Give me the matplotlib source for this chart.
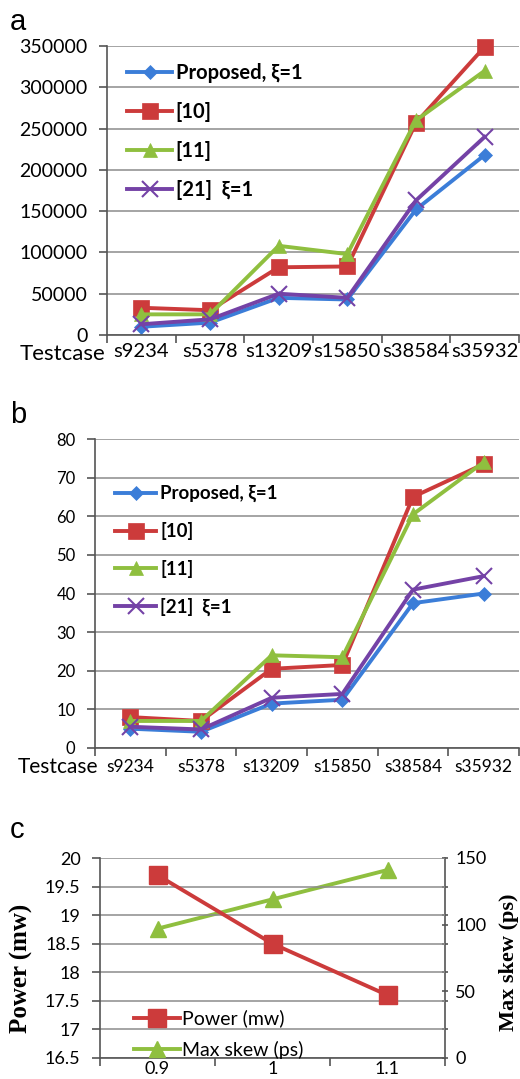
import matplotlib
matplotlib.use("Agg")
import matplotlib.pyplot as plt
from matplotlib.ticker import FixedLocator, NullFormatter
import numpy as np

plt.rcParams["font.family"] = ["Lato", "DejaVu Sans"]

# ---- data ----
testcases = ["s9234", "s5378", "s13209", "s15850", "s38584", "s35932"]
series_names = ["Proposed, ξ=1", "[10]", "[11]", "[21]  ξ=1"]

# panel a
a_proposed = [10000, 15000, 45000, 43000, 152000, 218000]
a_ref10 = [33000, 30000, 82000, 83000, 257000, 349000]
a_ref11 = [25000, 25000, 108000, 98000, 260000, 320000]
a_ref21 = [13000, 19000, 50000, 45000, 163000, 240000]

# panel b
b_proposed = [5, 4.2, 11.5, 12.5, 37.5, 40]
b_ref10 = [8, 7, 20.5, 21.5, 65, 73.5]
b_ref11 = [7, 7, 24, 23.5, 60.5, 74]
b_ref21 = [5.5, 4.8, 13, 14, 41, 44.5]

# panel c
c_xlabels = ["0.9", "1", "1.1"]
c_power = [19.7, 18.5, 17.6]
c_skew = [97, 119, 141]

colors = ["#3b7dd8", "#cc3b3b", "#8fbf3f", "#7442a6"]
markers = ["D", "s", "^", "x"]
msizes = [7, 11, 10, 11]

fig = plt.figure(figsize=(5.2, 10.79), dpi=100)
W, H = 520.0, 1079.0


def px_axes(l, t, r, b):
    return fig.add_axes([l / W, 1 - b / H, (r - l) / W, (b - t) / H])


def style_cat_axes(ax, labels, fs, yfs, pad):
    n = len(labels)
    ax.set_xlim(-0.5, n - 0.5)
    for s in ["top", "right"]:
        ax.spines[s].set_visible(False)
    for s in ["left", "bottom"]:
        ax.spines[s].set_color("#555555")
        ax.spines[s].set_linewidth(1.2)
    ax.yaxis.grid(True, color="#8c8c8c", linewidth=1.1)
    ax.set_axisbelow(True)
    ax.set_xticks(range(n))
    ax.set_xticklabels(labels, fontsize=fs)
    ax.xaxis.set_minor_locator(FixedLocator(np.arange(-0.5, n, 1.0)))
    ax.tick_params(axis="x", which="major", length=0, pad=pad)
    ax.tick_params(axis="x", which="minor", length=6, width=1.2,
                   color="#555555", direction="out")
    ax.tick_params(axis="y", length=6, width=1.2, color="#555555",
                   labelsize=yfs, pad=8)


def draw_series(ax, data, legend_fs, spacing, anchor):
    for vals, name, c, m, ms in zip(data, series_names, colors, markers, msizes):
        ax.plot(range(len(vals)), vals, color=c, marker=m, markersize=ms,
                linewidth=2.8, markeredgewidth=1.5 if m == "x" else 0.5,
                markeredgecolor=c, label=name, clip_on=False)
    leg = ax.legend(loc="upper left", bbox_to_anchor=anchor, frameon=False,
                    fontsize=legend_fs, handlelength=2.2, handletextpad=0.2,
                    labelspacing=spacing, borderaxespad=0)
    for t in leg.get_texts():
        t.set_fontweight("bold")
    return leg


# ---- panel a ----
ax_a = px_axes(107, 46, 519, 335)
draw_series(ax_a, [a_proposed, a_ref10, a_ref11, a_ref21], 14.5, 0.95,
            (0.03, 0.97))
ax_a.set_ylim(0, 350000)
ax_a.set_yticks(np.arange(0, 350001, 50000))
style_cat_axes(ax_a, testcases, 14.5, 14, 6)
ax_a.text(-0.212, -0.032, "Testcase", transform=ax_a.transAxes, fontsize=16,
          ha="left", va="top")

# ---- panel b ----
ax_b = px_axes(95, 439, 519, 748)
draw_series(ax_b, [b_proposed, b_ref10, b_ref11, b_ref21], 13.5, 1.05,
            (0.03, 0.875))
ax_b.set_ylim(0, 80)
ax_b.set_yticks(np.arange(0, 81, 10))
style_cat_axes(ax_b, testcases, 12.5, 12, 8)
ax_b.text(-0.183, -0.03, "Testcase", transform=ax_b.transAxes, fontsize=15,
          ha="left", va="top")

# ---- panel c ----
ax_c = px_axes(100, 858, 445, 1058)
ax_c2 = ax_c.twinx()
ln2 = ax_c2.plot(range(3), c_skew, color=colors[2], marker="^", markersize=12,
                 linewidth=2.8, markeredgecolor=colors[2], label="Max skew (ps)")
ln1 = ax_c.plot(range(3), c_power, color=colors[1], marker="s", markersize=13,
                linewidth=2.8, markeredgecolor=colors[1], label="Power (mw)")
ax_c.set_zorder(ax_c2.get_zorder() + 1)
ax_c.patch.set_visible(False)
ax_c.set_ylim(16.5, 20)
ax_c.set_yticks(np.arange(16.5, 20.01, 0.5))
ax_c.set_yticklabels(["16.5", "17", "17.5", "18", "18.5", "19", "19.5", "20"])
style_cat_axes(ax_c, c_xlabels, 13, 13, 2)
ax_c2.set_ylim(0, 150)
ax_c2.set_yticks([0, 50, 100, 150])
ax_c2.yaxis.set_minor_locator(FixedLocator(np.linspace(0, 150, 8)))
ax_c2.yaxis.set_minor_formatter(NullFormatter())
for s in ["top", "left", "bottom"]:
    ax_c2.spines[s].set_visible(False)
ax_c2.spines["right"].set_color("#555555")
ax_c2.spines["right"].set_linewidth(1.2)
ax_c2.tick_params(axis="y", which="both", length=5, width=1.2,
                  color="#555555", direction="inout", labelsize=13, pad=5)
ax_c.legend(ln1 + ln2, ["Power (mw)", "Max skew (ps)"],
            loc="lower left", bbox_to_anchor=(0.075, -0.045),
            frameon=False, fontsize=14, handlelength=2.4,
            handletextpad=0.1, labelspacing=0.7, borderaxespad=0)
fig.text(21 / W, 1 - 968 / H, "Power (mw)", family="Liberation Serif",
         fontsize=18, fontweight="bold", rotation=90, ha="center", va="center")
fig.text(509 / W, 1 - 962 / H, "Max skew (ps)", family="Liberation Serif",
         fontsize=16, fontweight="bold", rotation=90, ha="center", va="center")

# panel letters
fig.text(10 / W, 1 - 30 / H, "a", fontsize=21, family="Liberation Sans")
fig.text(10 / W, 1 - 423 / H, "b", fontsize=21, family="Liberation Sans")
fig.text(10 / W, 1 - 838 / H, "c", fontsize=21, family="Liberation Sans")

fig.savefig("out.png", dpi=100)
